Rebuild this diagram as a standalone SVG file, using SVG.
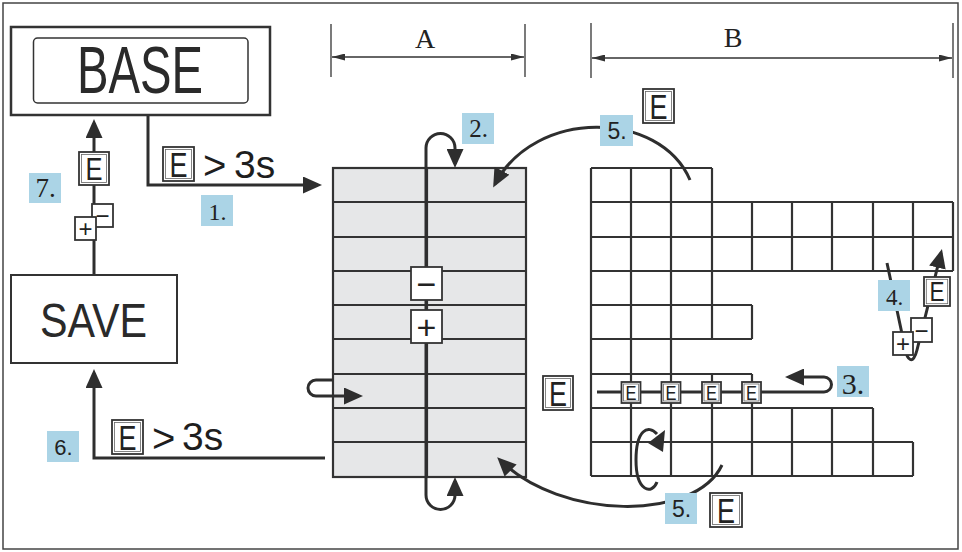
<svg xmlns="http://www.w3.org/2000/svg" width="962" height="552" viewBox="0 0 962 552">
<defs>
<style>
.ln{stroke:#2e2e2e;stroke-width:3;fill:none}
.g{stroke:#333;stroke-width:2.2;fill:none}
.dim{stroke:#333;stroke-width:1.3;fill:none}
.lbl{fill:#abd4e6}
.ls{font-family:"Liberation Serif",serif;fill:#222;text-anchor:middle}
.lsa{font-family:"Liberation Sans",sans-serif;fill:#222;text-anchor:middle}
.key{fill:#fff;stroke:#333;stroke-width:1.8}
.keyi{fill:none;stroke:#666;stroke-width:0.8}
.kt{font-family:"Liberation Sans",sans-serif;fill:#222;text-anchor:middle}
.big{font-family:"Liberation Sans",sans-serif;fill:#2a2a2a;text-anchor:middle}
.t3{font-family:"Liberation Sans",sans-serif;fill:#1e1e1e}
</style>
<marker id="ah" viewBox="0 0 19 17" refX="15" refY="8.5" markerWidth="19" markerHeight="17" markerUnits="userSpaceOnUse" orient="auto"><path d="M0,0 L19,8.5 L0,17 z" fill="#2e2e2e"/></marker>
<marker id="da" viewBox="0 0 13 7" refX="13" refY="3.5" markerWidth="13" markerHeight="7" markerUnits="userSpaceOnUse" orient="auto-start-reverse"><path d="M0,0 L13,3.5 L0,7 z" fill="#333"/></marker>
</defs>
<rect x="3" y="3" width="955" height="546" fill="#fff" stroke="#444" stroke-width="1.5"/>

<g id="dimA">
<line class="dim" x1="331" y1="24" x2="331" y2="77"/>
<line class="dim" x1="525" y1="24" x2="525" y2="77"/>
<line class="dim" x1="332" y1="57" x2="524" y2="57" marker-start="url(#da)" marker-end="url(#da)"/>
<text class="ls" x="425" y="48" font-size="28">A</text>
</g>
<g id="dimB">
<line class="dim" x1="591" y1="23" x2="591" y2="78"/>
<line class="dim" x1="953" y1="23" x2="953" y2="78"/>
<line class="dim" x1="592" y1="58" x2="952" y2="58" marker-start="url(#da)" marker-end="url(#da)"/>
<text class="ls" x="733" y="47" font-size="28">B</text>
</g>

<g id="gridA">
<rect x="333" y="168" width="193" height="309" fill="#e6e7e8" stroke="#333" stroke-width="2.2"/>
<path class="g" d="M333,202H526M333,237H526M333,271H526M333,305H526M333,339H526M333,374H526M333,408H526M333,442H526M427,168V477"/>
</g>

<g id="gridB">
<path class="g" d="M591,168H712M591,202H953M591,237H953M591,271H953M591,305H752M591,339H752M591,374H752M591,408H873M591,442H913M591,476H913
M591,168V476M631,168V476M671,168V476M712,168V339M712,374V476M752,202V271M752,305V339M752,374V476M792,202V271M792,408V476M832,202V271M832,408V476M873,202V271M873,408V476M913,202V271M913,442V476M953,202V271"/>
</g>

<g id="connectors">
<path class="ln" d="M148,115V185H318" marker-end="url(#ah)"/>
<path class="ln" d="M94,275V123" marker-end="url(#ah)"/>
<path class="ln" d="M325,458H94V373" marker-end="url(#ah)"/>
<path class="ln" d="M426,148V495"/>
<path class="ln" d="M426,148A14.5,14.5 0 0 1 455,148V164" marker-end="url(#ah)"/>
<path class="ln" d="M426,495A14.5,14.5 0 0 0 455,495V481" marker-end="url(#ah)"/>
<path class="ln" d="M333,380H316A8,8 0 0 0 316,396H359" marker-end="url(#ah)"/>
<path class="ln" d="M690,180C660,110 535,108 495,184" marker-end="url(#ah)"/>
<path class="ln" d="M722,465C695,522 560,520 500,460" marker-end="url(#ah)"/>
<path class="ln" d="M597,392H824A7.5,7.5 0 0 0 824,377H789" marker-end="url(#ah)"/>
<path class="ln" d="M887,263L905,348C907,360 913,366 917,350L941,253" marker-end="url(#ah)"/>
<path class="ln" d="M657,482C652,495 636,492 636,460C636,430 648,424 657,434"/>
<polygon points="665,430 663,452 648,443" fill="#2e2e2e"/>
</g>

<g id="base">
<rect x="11" y="27" width="259" height="88" fill="#fff" stroke="#333" stroke-width="2.5"/>
<rect x="33.5" y="38" width="214.5" height="65" rx="4" fill="#fff" stroke="#333" stroke-width="1.5"/>
<text class="big" x="140" y="93" font-size="67" textLength="126" lengthAdjust="spacingAndGlyphs">BASE</text>
</g>
<g id="save">
<rect x="11" y="275" width="166" height="88" fill="#fff" stroke="#333" stroke-width="2"/>
<text class="big" x="93.5" y="337" font-size="49" textLength="107" lengthAdjust="spacingAndGlyphs" fill="#333">SAVE</text>
</g>

<g id="cond1">
<rect class="key" x="163" y="147" width="31" height="34"/><rect class="keyi" x="165.5" y="149.5" width="26" height="29"/>
<text class="kt" x="178.5" y="176.5" font-size="35" textLength="18" lengthAdjust="spacingAndGlyphs">E</text>
<text class="t3" x="203" y="179" font-size="40">&gt;</text>
<text class="t3" x="234" y="178" font-size="39">3s</text>
</g>
<g id="cond6">
<rect class="key" x="112" y="420" width="31" height="34"/><rect class="keyi" x="114.5" y="422.5" width="26" height="29"/>
<text class="kt" x="127.5" y="449.5" font-size="35" textLength="18" lengthAdjust="spacingAndGlyphs">E</text>
<text class="t3" x="152" y="452" font-size="40">&gt;</text>
<text class="t3" x="182" y="450" font-size="39">3s</text>
</g>
<g id="keys7">
<rect class="key" x="79" y="152" width="30" height="33"/><rect class="keyi" x="81.5" y="154.5" width="25" height="28"/>
<text class="kt" x="94" y="179.5" font-size="32" textLength="17" lengthAdjust="spacingAndGlyphs">E</text>
<rect class="key" x="92" y="204" width="21" height="23"/>
<text class="kt" x="102.5" y="224" font-size="24">−</text>
<rect class="key" x="75" y="217" width="21" height="23"/>
<text class="kt" x="85.5" y="237" font-size="24">+</text>
</g>
<g id="keysA">
<rect class="key" x="411" y="267" width="31" height="33"/>
<text class="kt" x="426.5" y="295.5" font-size="34">−</text>
<rect class="key" x="411" y="310" width="31" height="33"/>
<text class="kt" x="426.5" y="338.5" font-size="34">+</text>
</g>
<g id="keysB">
<rect class="key" x="643" y="89" width="31" height="34"/><rect class="keyi" x="645.5" y="91.5" width="26" height="29"/>
<text class="kt" x="658.5" y="118.5" font-size="35" textLength="18" lengthAdjust="spacingAndGlyphs">E</text>
<rect class="key" x="710" y="493" width="32" height="34"/><rect class="keyi" x="712.5" y="495.5" width="27" height="29"/>
<text class="kt" x="726" y="522.5" font-size="35" textLength="18" lengthAdjust="spacingAndGlyphs">E</text>
<rect class="key" x="543" y="376" width="30" height="34"/><rect class="keyi" x="545.5" y="378.5" width="25" height="29"/>
<text class="kt" x="558" y="405.5" font-size="35" textLength="18" lengthAdjust="spacingAndGlyphs">E</text>
<rect class="key" x="924" y="277" width="26" height="29"/><rect class="keyi" x="926.3" y="279.3" width="21.4" height="24.4"/>
<text class="kt" x="937" y="301" font-size="27" textLength="15" lengthAdjust="spacingAndGlyphs">E</text>
<rect class="key" x="911" y="318" width="21" height="24"/>
<text class="kt" x="921.5" y="338.5" font-size="24">−</text>
<rect class="key" x="893" y="332" width="20" height="23"/>
<text class="kt" x="903" y="352" font-size="24">+</text>
</g>
<g id="keysRow">
<rect class="key" x="621.5" y="382" width="19" height="21"/><rect class="keyi" x="623.5" y="384" width="15" height="17"/>
<text class="kt" x="631" y="399.7" font-size="20" textLength="11" lengthAdjust="spacingAndGlyphs">E</text>
<rect class="key" x="661.5" y="382" width="19" height="21"/><rect class="keyi" x="663.5" y="384" width="15" height="17"/>
<text class="kt" x="671" y="399.7" font-size="20" textLength="11" lengthAdjust="spacingAndGlyphs">E</text>
<rect class="key" x="702" y="382" width="19" height="21"/><rect class="keyi" x="704" y="384" width="15" height="17"/>
<text class="kt" x="711.5" y="399.7" font-size="20" textLength="11" lengthAdjust="spacingAndGlyphs">E</text>
<rect class="key" x="742" y="382" width="19" height="21"/><rect class="keyi" x="744" y="384" width="15" height="17"/>
<text class="kt" x="751.5" y="399.7" font-size="20" textLength="11" lengthAdjust="spacingAndGlyphs">E</text>
</g>

<g id="labels">
<rect class="lbl" x="201" y="195" width="32" height="31"/><text class="ls" x="217.5" y="220" font-size="24">1.</text>
<rect class="lbl" x="462" y="113" width="32" height="31"/><text class="ls" x="478.5" y="137" font-size="25">2.</text>
<rect class="lbl" x="837" y="366" width="32" height="31"/><text class="ls" x="853" y="394" font-size="30">3.</text>
<rect class="lbl" x="878" y="280" width="32" height="31"/><text class="ls" x="894.5" y="305" font-size="23">4.</text>
<rect class="lbl" x="600" y="115" width="33" height="31"/><text class="lsa" x="617" y="139" font-size="23">5.</text>
<rect class="lbl" x="665" y="493" width="32" height="31"/><text class="lsa" x="681.5" y="517" font-size="23">5.</text>
<rect class="lbl" x="47" y="431" width="32" height="31"/><text class="lsa" x="63.5" y="455" font-size="22">6.</text>
<rect class="lbl" x="29" y="173" width="32" height="30"/><text class="ls" x="45.5" y="197" font-size="27">7.</text>
</g>
</svg>
